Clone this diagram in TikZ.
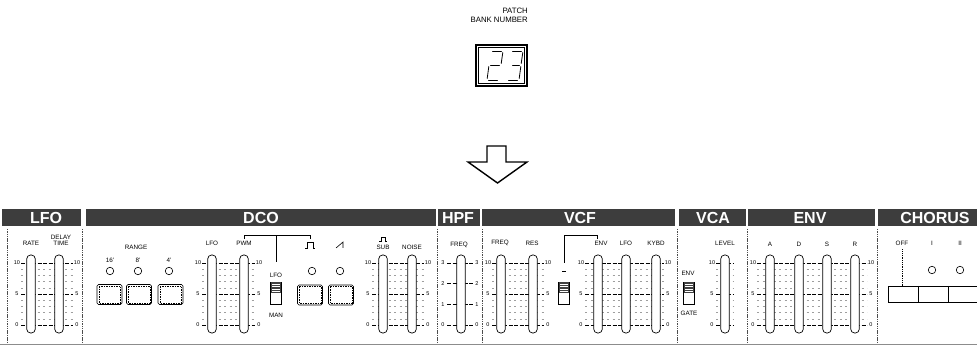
\documentclass[tikz,border=0pt]{standalone}
\usepackage{fontspec}
\setmainfont{Liberation Sans}
\definecolor{hdrc}{gray}{0.24}
\definecolor{sepc}{gray}{0.3}
\newcommand\mysld[2]{\node[sld] (#1) at (#2,294) {};}
\newcommand\mynums[2]{%
  \node[num] (#1t) at (#2,263) {10};
  \node[num] (#1m) at (#2,294) {5};
  \node[num] (#1b) at (#2,325) {0};}
\newcommand\mylines[2]{%
  \foreach \yy in {263,294,325} {\draw[majl] (#1,\yy) -- (#2,\yy);}
  \foreach \yy in {269.2,275.4,281.6,287.8,300.2,306.4,312.6,318.8} {\draw[minl] (#1,\yy) -- (#2,\yy);}}
\newcommand\mybtn[3]{%
  \node[btn] (#1) at (#2,#3) {};
  \draw[btnin] ([shift={(2,2)}]#1.north west) rectangle ([shift={(-2,-2)}]#1.south east);}
\newcommand\myswitch[2]{%
  \node[swb] (#1) at (#2,293) {};
  \fill[black!75] (#2-5,282) rectangle (#2+5,293);
  \foreach \k in {284,286.5,289,291.5} {\draw[white,line width=0.4pt] (#2-4,\k) -- (#2+4,\k);}}
\begin{document}
\begin{tikzpicture}[x=1pt,y=-1pt,
  hdrtxt/.style={text=white,font=\fontsize{16}{16}\selectfont\bfseries,inner sep=0},
  lbl/.style={font=\fontsize{6.3}{7}\selectfont,inner sep=0},
  toplbl/.style={font=\fontsize{7.8}{8}\selectfont,inner sep=0,anchor=east},
  num/.style={font=\fontsize{5.5}{5.5}\selectfont,inner sep=0},
  sld/.style={draw,line width=0.7pt,fill=white,rounded corners=3.8pt,minimum width=8.5pt,minimum height=78pt,inner sep=0},
  led/.style={draw,line width=0.6pt,circle,minimum size=7.5pt,inner sep=0},
  btn/.style={draw,line width=0.6pt,rounded corners=1.5pt,minimum width=25pt,minimum height=20pt,inner sep=0},
  btnin/.style={line width=0.4pt,dash pattern=on 1.5pt off 1pt},
  swb/.style={draw,line width=0.6pt,minimum width=11pt,minimum height=22pt,inner sep=0},
  majl/.style={line width=0.5pt,dash pattern=on 4pt off 1.5pt},
  minl/.style={line width=0.4pt,black!38,dash pattern=on 2pt off 3.5pt},
  sepl/.style={sepc,line width=0.7pt,dash pattern=on 1.5pt off 0.8pt},
  brk/.style={line width=0.6pt}
]
\useasboundingbox (0,0) rectangle (977,347);
\fill[white] (0,0) rectangle (977,347);

% ---------- top: patch bank number ----------
\node[toplbl] (tpatch) at (528,11) {PATCH};
\node[toplbl] (tbank) at (528,20) {BANK NUMBER};
\node[draw,line width=1.3pt,minimum width=51pt,minimum height=41pt,inner sep=0] (disp) at (501.5,65.5) {};
\draw[line width=0.4pt] (478.5,47.5) rectangle (524.5,83.5);
\begin{scope}[line width=0.8pt,line cap=round]
  % digit 2
  \draw (492.5,51) -- (501.5,51);
  \draw (502.8,52.5) -- (501.2,63.5);
  \draw (490.5,65) -- (499.5,65);
  \draw (488.8,66.5) -- (487.2,78.5);
  \draw (488.5,80) -- (497.5,80);
  % digit 3
  \draw (512.5,51) -- (521.5,51);
  \draw (522.8,52.5) -- (521.2,63.5);
  \draw (512.5,65) -- (519.5,65);
  \draw (520.8,66.5) -- (519.2,78.5);
  \draw (508.5,80) -- (517.5,80);
\end{scope}
% hollow arrow
\draw[line width=1.4pt,line join=miter] (487,146) -- (506,146) -- (506,162) -- (527,162) -- (497.5,183) -- (468,162) -- (487,162) -- cycle;

% ---------- header bars ----------
\fill[hdrc] (2,209) rectangle (81,226);
\fill[hdrc] (86,209) rectangle (436,226);
\fill[hdrc] (438,209) rectangle (480,226);
\fill[hdrc] (482,209) rectangle (675,226);
\fill[hdrc] (679,209) rectangle (746,226);
\fill[hdrc] (748,209) rectangle (875,226);
\fill[hdrc] (878,209) rectangle (977,226);
\node[hdrtxt] (hlfo) at (46,217.5) {LFO};
\node[hdrtxt] (hdco) at (261,217.5) {DCO};
\node[hdrtxt] (hhpf) at (458,217.5) {HPF};
\node[hdrtxt] (hvcf) at (580,217.5) {VCF};
\node[hdrtxt] (hvca) at (713,217.5) {VCA};
\node[hdrtxt] (henv) at (810,217.5) {ENV};
\node[hdrtxt] (hcho) at (935,217.5) {CHORUS};

% ---------- separators ----------
\foreach \sx in {7,82,437,482,677,747,877} {\draw[sepl] (\sx,229) -- (\sx,342);}
\draw[black!45,line width=1pt] (0,344.5) -- (977,344.5);

% ---------- scale lines ----------
\mylines{21}{73}
\mylines{202}{255}
\mylines{372}{424}
\foreach \yy in {263,283.7,304.3,325} {\draw[majl] (447,\yy) -- (473,\yy);}
\mylines{492}{544}
\mylines{585}{664}
\mylines{716}{734}
\mylines{757}{867}

% ---------- LFO ----------
\node[lbl] (lrate) at (31,243) {RATE};
\node[lbl] (ldelay) at (61,237) {DELAY};
\node[lbl] (ltime) at (61,243) {TIME};
\mysld{srate}{31}
\mysld{sdelay}{59}
\mynums{nlfol}{17}
\mynums{nlfor}{77}

% ---------- DCO ----------
\node[lbl] (lrange) at (136,247) {RANGE};
\node[lbl] (l16) at (110,260) {16'};
\node[lbl] (l8) at (138,260) {8'};
\node[lbl] (l4) at (169,260) {4'};
\node[led] (d16) at (110,271) {};
\node[led] (d8) at (138,271) {};
\node[led] (d4) at (169,271) {};
\mybtn{b16}{109.5}{294.5}
\mybtn{b8}{139}{294.5}
\mybtn{b4}{170.5}{294.5}
\node[lbl] (ldlfo) at (212,243) {LFO};
\node[lbl] (lpwm) at (244,243) {PWM};
\mysld{sdlfo}{212}
\mysld{spwm}{244}
\mynums{ndcol}{198}
\mynums{ndcor}{259}
\coordinate (bkl) at (244,239);
\coordinate (bkr) at (310,239);
\coordinate (bkm) at (276,262);
\draw[brk] (bkl) |- (bkr |- 0,235) -- (bkr);
\draw[brk] (bkm) -- (bkm |- 0,235);
\node[lbl] (lswlfo) at (276,275) {LFO};
\myswitch{swpwm}{276}
\node[lbl] (lman) at (276,315) {MAN};
\node[inner sep=0,minimum size=8pt] (lpulse) at (310,245) {};
\draw[line width=0.6pt] (305,248) -- (307,248) -- (307,242) -- (313,242) -- (313,248) -- (315,248);
\node[inner sep=0,minimum size=8pt] (lsaw) at (340,245) {};
\draw[line width=0.6pt] (336,248) -- (343,242) -- (343,248);
\node[led] (dpulse) at (312,271) {};
\node[led] (dsaw) at (340,271) {};
\mybtn{bpulse}{310}{295}
\mybtn{bsaw}{341}{295}
\node[inner sep=0,minimum size=6pt] (lsubsym) at (383,239) {};
\draw[line width=0.5pt] (379,241.5) -- (381,241.5) -- (381,237) -- (385,237) -- (385,241.5) -- (387,241.5);
\node[lbl] (lsub) at (383,247) {SUB};
\node[lbl] (lnoise) at (412,247) {NOISE};
\mysld{ssub}{383}
\mysld{snoise}{412}
\mynums{nsubl}{368}
\mynums{nsubr}{428}

% ---------- HPF ----------
\node[lbl] (lhpf) at (459,245) {FREQ};
\mysld{shpf}{461}
\foreach \v/\yy in {3/263,2/283.7,1/304.3,0/325} {
  \node[num] (nhl\v) at (443,\yy) {\v};
  \node[num] (nhr\v) at (477,\yy) {\v};
}

% ---------- VCF ----------
\node[lbl] (lvfreq) at (500,243) {FREQ};
\node[lbl] (lres) at (532,243) {RES};
\mysld{sfreq}{501}
\mysld{sres}{533}
\mynums{nvcfl}{488}
\mynums{nvcfr}{548}
\coordinate (pbm) at (564,263);
\coordinate (pbr) at (597,239);
\draw[brk] (pbm) |- (pbr |- 0,235) -- (pbr);
\draw[line width=0.5pt] (562,271) -- (566,271);
\myswitch{swpol}{564}
\node[lbl] (lvenv) at (601,243) {ENV};
\node[lbl] (lvlfo) at (626,243) {LFO};
\node[lbl] (lkybd) at (656,243) {KYBD};
\mysld{senv}{598}
\mysld{svlfo}{626}
\mysld{skybd}{656}
\mynums{nvcf2l}{581}
\mynums{nvcf2r}{668}

% ---------- VCA ----------
\node[lbl] (laenv) at (688,273) {ENV};
\myswitch{swvca}{689}
\node[lbl] (lgate) at (689,313) {GATE};
\node[lbl] (llevel) at (725,243) {LEVEL};
\mysld{slevel}{725}
\mynums{nvcal}{712}

% ---------- ENV ----------
\node[lbl] (la) at (770,244) {A};
\node[lbl] (ld) at (799,244) {D};
\node[lbl] (ls) at (827,244) {S};
\node[lbl] (lr) at (855,244) {R};
\mysld{sa}{770}
\mysld{sd}{799}
\mysld{ss}{827}
\mysld{sr}{855}
\mynums{nenvl}{753}
\mynums{nenvr}{871}

% ---------- CHORUS ----------
\node[lbl] (loff) at (902,243) {OFF};
\node[lbl] (li) at (932,243) {I};
\node[lbl] (lii) at (960,243) {II};
\draw[line width=0.5pt,dash pattern=on 1pt off 0.8pt] (loff.south) ++(0,4) -- (902,286);
\node[led] (dci) at (932,270) {};
\node[led] (dcii) at (960,270) {};
\coordinate (cbl) at (888,286);
\draw[line width=0.6pt] (977,286) -- (cbl) -- (888,302) -- (977,302);
\draw[line width=0.6pt] (918,286) -- (918,302);
\draw[line width=0.6pt] (948,286) -- (948,302);
\end{tikzpicture}
\end{document}
